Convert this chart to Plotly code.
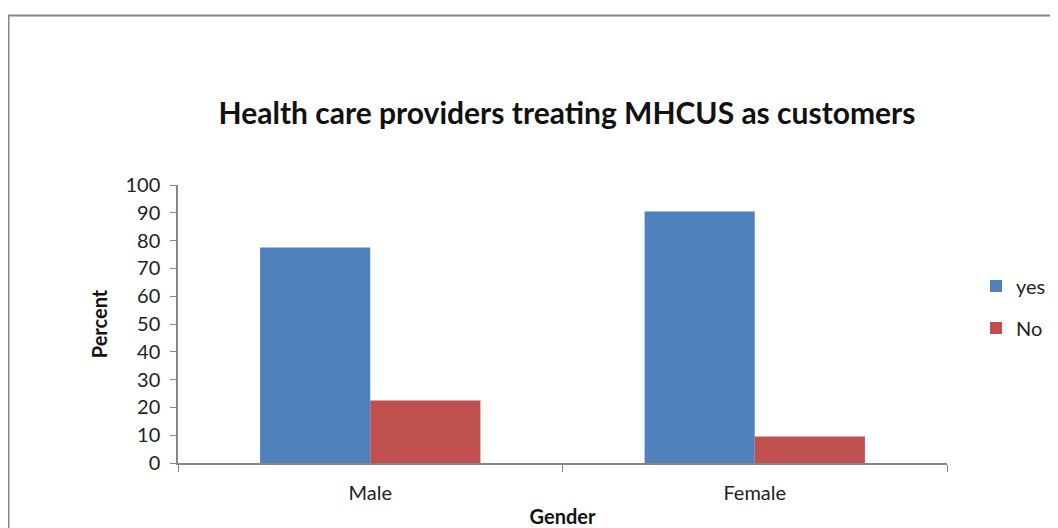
import plotly.graph_objects as go

categories = ["Male", "Female"]
yes_values = [77.5, 90.5]
no_values = [22.5, 9.5]
y_ticks = list(range(0, 101, 10))

FONT = "Lato"
AXIS_GRAY = "#868686"
W, H = 1050, 520
L, R, T, B = 170, 111, 177, 65
PW, PH = W - L - R, H - T - B

fig = go.Figure()
fig.add_trace(go.Bar(name="yes", x=categories, y=yes_values, legendgroup="a",
                     marker=dict(color="#4F81BD", line=dict(width=0))))
fig.add_trace(go.Bar(name="No", x=categories, y=no_values, legendgroup="b",
                     marker=dict(color="#C0504D", line=dict(width=0))))

fig.update_layout(
    width=W, height=H,
    margin=dict(l=L, r=R, t=T, b=B, autoexpand=False),
    paper_bgcolor="white", plot_bgcolor="white",
    barmode="group", bargap=0.427, bargroupgap=0,
    font=dict(family=FONT, color="#222222", size=20),
    title=dict(text="<b>Health care providers treating MHCUS as customers</b>",
               x=559/W, xanchor="center", y=1-105/H, yanchor="middle",
               font=dict(family=FONT, size=30, color="#111111")),
    showlegend=True,
    legend=dict(x=(968-L)/PW, xanchor="left", y=(H-B-299)/PH, yanchor="middle",
                font=dict(family=FONT, size=20, color="#222222"),
                itemwidth=30, traceorder="grouped", tracegroupgap=13,
                bgcolor="rgba(0,0,0,0)"),
    xaxis=dict(showline=True, linecolor=AXIS_GRAY, linewidth=1.5,
               ticks="outside", tickson="boundaries", ticklen=7, tickcolor=AXIS_GRAY,
               tickfont=dict(family=FONT, size=20, color="#222222"),
               ticklabelstandoff=11,
               title=dict(text="<b>Gender</b>", font=dict(family=FONT, size=20, color="#111111"), standoff=9),
               showgrid=False, zeroline=False),
    yaxis=dict(range=[0, 100], tickvals=y_ticks, showline=True, linecolor=AXIS_GRAY, linewidth=1.5,
               ticks="outside", ticklen=6, tickcolor=AXIS_GRAY,
               tickfont=dict(family=FONT, size=20, color="#222222"),
               ticklabelstandoff=6,
               title=dict(text="<b>Percent</b>", font=dict(family=FONT, size=20, color="#111111"), standoff=12),
               showgrid=False, zeroline=False),
    shapes=[dict(type="rect", xref="paper", yref="paper",
                 x0=(0.5-L)/PW, x1=2.0, y0=-1.0, y1=(H-B-7.5)/PH,
                 line=dict(color=AXIS_GRAY, width=2), fillcolor="rgba(0,0,0,0)", layer="below")],
)

fig.write_html("out.html")
